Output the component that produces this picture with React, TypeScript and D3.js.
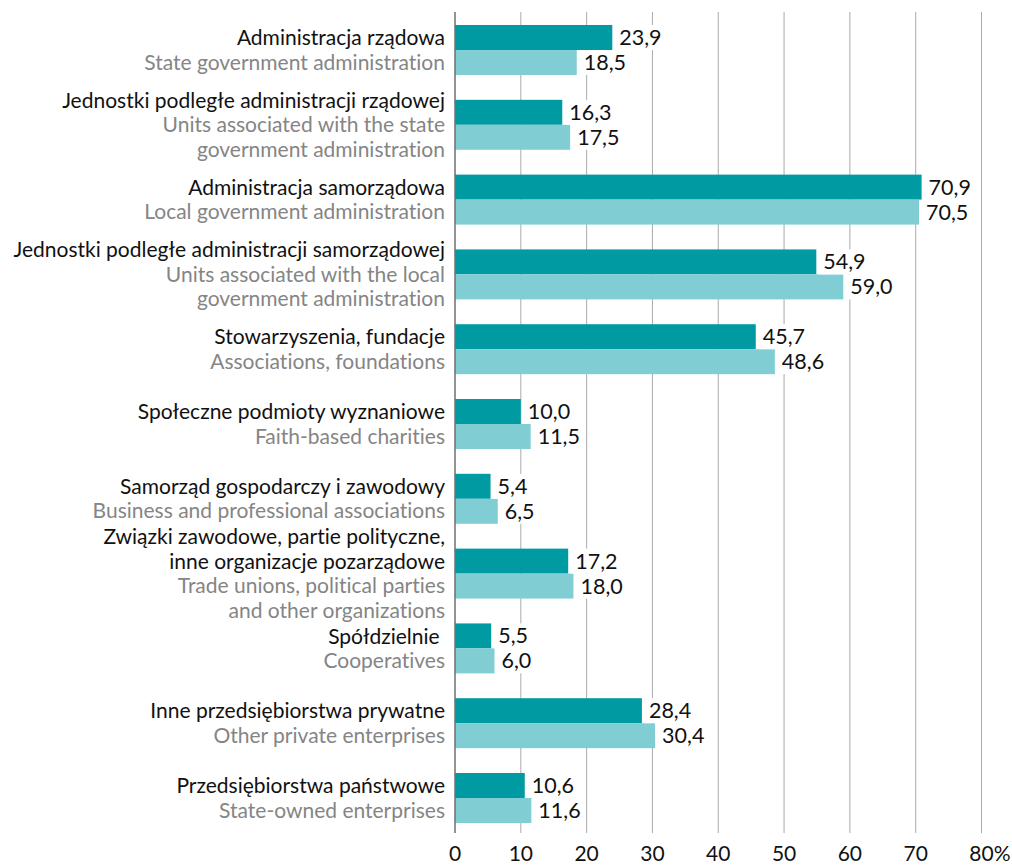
import React, { useEffect, useRef } from 'react';
import * as d3 from 'd3';

const labelsPl: string[][] = [
  ['Administracja rządowa'],
  ['Jednostki podległe administracji rządowej'],
  ['Administracja samorządowa'],
  ['Jednostki podległe administracji samorządowej'],
  ['Stowarzyszenia, fundacje'],
  ['Społeczne podmioty wyznaniowe'],
  ['Samorząd gospodarczy i zawodowy'],
  ['Związki zawodowe, partie polityczne,', 'inne organizacje pozarządowe'],
  ['Spółdzielnie\u00a0'],
  ['Inne przedsiębiorstwa prywatne'],
  ['Przedsiębiorstwa państwowe'],
];

const labelsEn: string[][] = [
  ['State government administration'],
  ['Units associated with the state', 'government administration'],
  ['Local government administration'],
  ['Units associated with the local', 'government administration'],
  ['Associations, foundations'],
  ['Faith-based charities'],
  ['Business and professional associations'],
  ['Trade unions, political parties', 'and other organizations'],
  ['Cooperatives'],
  ['Other private enterprises'],
  ['State-owned enterprises'],
];

const darkValues = [23.9, 16.3, 70.9, 54.9, 45.7, 10.0, 5.4, 17.2, 5.5, 28.4, 10.6];
const lightValues = [18.5, 17.5, 70.5, 59.0, 48.6, 11.5, 6.5, 18.0, 6.0, 30.4, 11.6];

const ticks = [0, 10, 20, 30, 40, 50, 60, 70, 80];

const App = () => {
  const svgRef = useRef<SVGSVGElement>(null);

  useEffect(() => {
    const width = 1012;
    const height = 866;
    const font = 'Lato, sans-serif';
    const fmt = (v: number) => v.toFixed(1).replace('.', ',');

    const svg = d3.select(svgRef.current)
      .attr('width', width)
      .attr('height', height)
      .style('font-family', font)
      .style('font-variant-ligatures', 'none');
    svg.selectAll('*').remove();

    const x = d3.scaleLinear().domain([0, 80]).range([455, 981.5]);
    const y = d3.scaleBand<number>()
      .domain(d3.range(labelsPl.length))
      .range([12.6, 835.4])
      .paddingInner(0.332)
      .paddingOuter(0.166);
    const sub = d3.scaleBand<string>().domain(['dark', 'light']).range([0, y.bandwidth()]);

    const gridTop = 12;
    const gridBottom = 833;

    // grid
    svg.append('g')
      .selectAll('line')
      .data(ticks.slice(1))
      .join('line')
      .attr('x1', d => x(d)).attr('x2', d => x(d))
      .attr('y1', gridTop).attr('y2', gridBottom)
      .attr('stroke', '#ababab')
      .attr('stroke-width', 1);

    const series = [
      { key: 'dark', values: darkValues, color: '#009aa2' },
      { key: 'light', values: lightValues, color: '#80cdd3' },
    ];

    series.forEach(s => {
      svg.append('g')
        .attr('fill', s.color)
        .selectAll('rect')
        .data(s.values)
        .join('rect')
        .attr('x', x(0))
        .attr('y', (d, i) => (y(i) as number) + (sub(s.key) as number))
        .attr('width', d => x(d) - x(0))
        .attr('height', sub.bandwidth());
    });

    // value labels with white background
    series.forEach(s => {
      const g = svg.append('g');
      s.values.forEach((v, i) => {
        const top = (y(i) as number) + (sub(s.key) as number);
        const bg = g.append('rect').attr('fill', 'white');
        const t = g.append('text')
          .attr('x', x(v) + 7)
          .attr('y', top + sub.bandwidth() / 2)
          .attr('dy', '0.35em')
          .attr('font-size', 21.5)
          .attr('fill', '#111')
          .text(fmt(v));
        const w = (t.node() as SVGTextElement).getComputedTextLength();
        bg.attr('x', x(v) + 3).attr('y', top).attr('width', w + 8).attr('height', sub.bandwidth());
      });
    });

    // zero axis
    svg.append('line')
      .attr('x1', x(0)).attr('x2', x(0))
      .attr('y1', gridTop).attr('y2', gridBottom)
      .attr('stroke', '#6f6f6f')
      .attr('stroke-width', 1.5);

    // tick labels
    const tg = svg.append('g').attr('font-size', 21).attr('fill', '#111');
    ticks.forEach((d, i) => {
      const t = tg.append('text')
        .attr('x', x(d))
        .attr('y', 861)
        .attr('text-anchor', 'middle')
        .text(d);
      if (i === ticks.length - 1) {
        const w = (t.node() as SVGTextElement).getComputedTextLength();
        tg.append('text')
          .attr('x', x(d) + w / 2)
          .attr('y', 861)
          .text('%');
      }
    });

    // category labels
    const lineH = 24.5;
    const lg = svg.append('g').attr('font-size', 21).attr('text-anchor', 'end');
    labelsPl.forEach((pl, i) => {
      const lines = [
        ...pl.map(t => ({ t, c: '#111' })),
        ...labelsEn[i].map(t => ({ t, c: '#858585' })),
      ];
      const center = (y(i) as number) + y.bandwidth() / 2;
      const start = center - ((lines.length - 1) * lineH) / 2;
      lines.forEach((l, j) => {
        lg.append('text')
          .attr('x', 445)
          .attr('y', start + j * lineH)
          .attr('dy', '0.35em')
          .attr('fill', l.c)
          .style('white-space', 'pre')
          .text(l.t);
      });
    });
  }, []);

  return <svg ref={svgRef} style={{ position: 'absolute', left: 0, top: 0 }}></svg>;
};

export default App;
